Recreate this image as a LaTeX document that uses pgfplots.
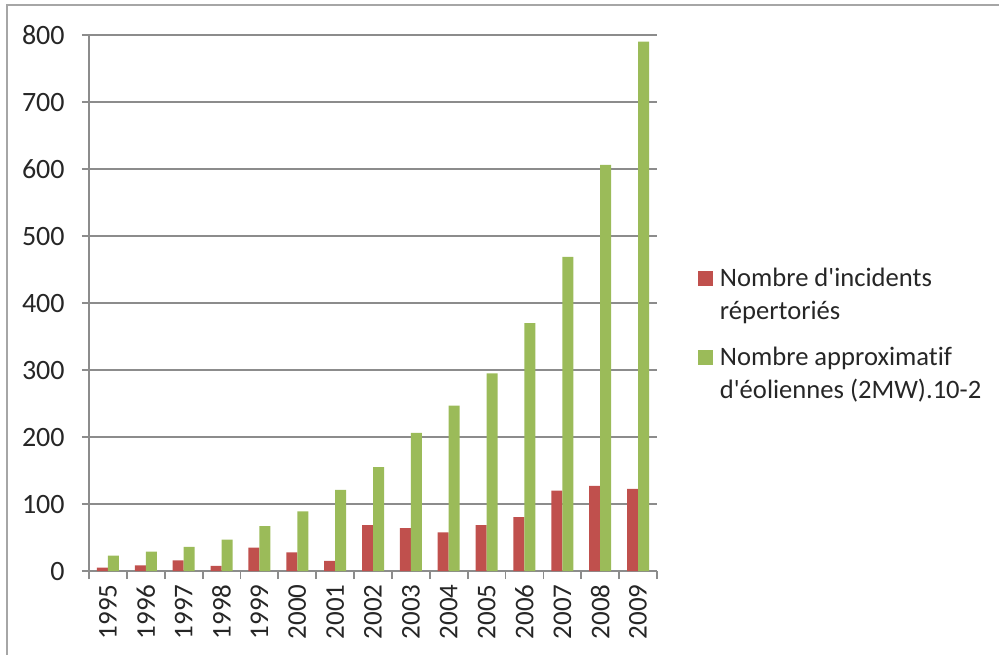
\documentclass[border=0pt]{standalone}
\usepackage{fontspec}
\setmainfont{Carlito}[Ligatures={TeXOff,NoCommon}]
\usepackage{pgfplots}
\usepackage{pgfplotstable}
\pgfplotsset{compat=1.18}
\definecolor{cred}{HTML}{C0504D}
\definecolor{cgreen}{HTML}{9BBB59}
\definecolor{gridc}{HTML}{8C8C8C}
\definecolor{txt}{HTML}{262626}
\definecolor{bord}{HTML}{A6A6A6}
\pgfplotstableread{
x red green
0 5 23
1 8.5 29
2 16 36
3 7.5 47
4 35 67
5 28 89
6 15 121
7 68.5 155
8 64 206
9 57.5 247
10 68.5 295
11 80.5 370
12 120 469
13 127 606
14 122.5 790
}\data
\begin{document}
\begin{tikzpicture}
\path[use as bounding box] (-44.5pt,-42pt) rectangle (455pt,285.5pt);
\draw[bord, line width=1pt] (-41pt,-42pt) -- (-41pt,283pt) -- (455pt,283pt);
\begin{axis}[
  at={(0pt,0pt)}, anchor=south west,
  scale only axis, width=284pt, height=268pt,
  ybar=0pt, bar width=5.5pt,
  xmin=-0.5, xmax=14.5, ymin=0, ymax=800,
  ytick={0,100,...,800},
  xtick={0,...,14},
  xticklabels={1995,1996,1997,1998,1999,2000,2001,2002,2003,2004,2005,2006,2007,2008,2009},
  minor xtick={-0.5,0.5,...,14.5},
  major x tick style={draw=none},
  minor x tick style={gridc, line width=0.9pt},
  minor tick length=4pt,
  major tick length=3.5pt,
  y tick style={gridc, line width=0.9pt},
  tick align=outside,
  axis x line*=bottom, axis y line*=left,
  axis line style={gridc, line width=0.9pt, -},
  ymajorgrids, grid style={gridc, line width=0.9pt},
  /pgf/number format/assume math mode=true,
  ticklabel style={text=txt},
  yticklabel style={font=\fontsize{14}{17}\selectfont, inner sep=0pt, xshift=-8.5pt},
  xticklabel style={font=\fontsize{13.5}{16}\selectfont, rotate=90, anchor=east, inner sep=0pt},
  xticklabel shift=3pt,
  legend style={at={(1.0616,0.574)}, anchor=north west, draw=none, fill=none,
    font=\fontsize{13.3}{16.5}\selectfont, text=txt,
    row sep=12.5pt, column sep=3.25pt,
    nodes={inner sep=0pt, align=left}},
  legend cell align=left,
  legend image code/.code={\fill[#1] (0pt,4.5pt) rectangle (7.5pt,12pt);},
]
\addplot[fill=cred, draw=none] table[x=x, y=red] {\data};
\addplot[fill=cgreen, draw=none] table[x=x, y=green] {\data};
\addlegendentry{Nombre d'incidents\\répertoriés}
\addlegendentry{Nombre approximatif\\d'éoliennes (2MW).10-2}
\end{axis}
\end{tikzpicture}
\end{document}
